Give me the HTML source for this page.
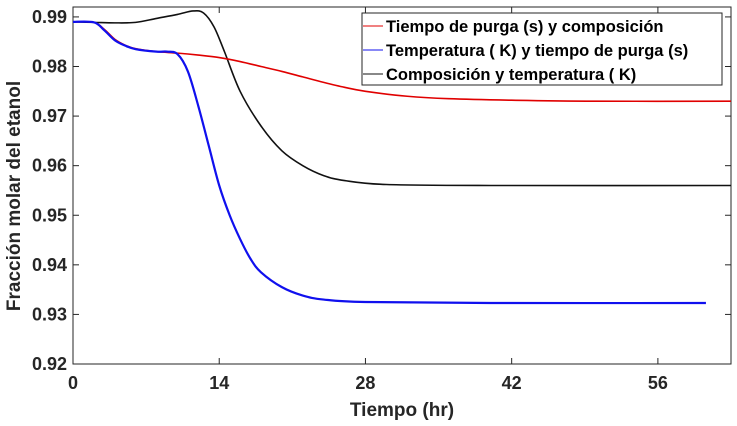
<!DOCTYPE html>
<html><head><meta charset="utf-8">
<style>
body{margin:0;background:#fff;}
svg{display:block;font-family:"Liberation Sans",Arial,sans-serif;}
</style></head>
<body>
<svg id="chart" width="737" height="426"></svg>
<script>
const xTicks=[0,14,28,42,56];
const yTicks=[0.92,0.93,0.94,0.95,0.96,0.97,0.98,0.99];
const yTickLabels=["0.92","0.93","0.94","0.95","0.96","0.97","0.98","0.99"];
const redX=[0,2,3,4,5,6,8,10,12,14,16,18,20,22,24,26,28,32,36,42,50,63];
const redY=[0.989,0.9889,0.9875,0.9855,0.9843,0.9836,0.9830,0.9827,0.9823,0.9818,0.9810,0.9800,0.9790,0.9779,0.9768,0.9758,0.9750,0.9740,0.9735,0.9732,0.9730,0.9730];
const blueX=[0,2,3,4,5,6,8,9,10,11,12,13,14,15,16,17,18,20,22,24,28,40,60.6];
const blueY=[0.989,0.9889,0.9873,0.9853,0.9842,0.9835,0.9830,0.9830,0.9825,0.9790,0.9720,0.9640,0.9560,0.9500,0.9452,0.9412,0.9385,0.9355,0.9338,0.9330,0.9325,0.9323,0.9323];
const blackX=[0,2,4,6,8,10,11.5,12.5,13.5,14.5,16,18,20,22,24,26,30,40,63];
const blackY=[0.989,0.9889,0.9888,0.9889,0.9897,0.9905,0.9912,0.9908,0.9880,0.9830,0.9750,0.9680,0.9630,0.9600,0.9580,0.9570,0.9562,0.9560,0.9560];
const legendLabels=["Tiempo de purga (s) y composición","Temperatura ( K) y tiempo de purga (s)","Composición y temperatura ( K)"];

const L=73,R=731,T=7,B=364,xMin=0,xMax=63,yMin=0.92,yMax=0.992;
const sx=v=>L+(v-xMin)/(xMax-xMin)*(R-L);
const sy=v=>B-(v-yMin)/(yMax-yMin)*(B-T);
const NS="http://www.w3.org/2000/svg";
const svg=document.getElementById('chart');
function mk(tag,attrs,parent){const e=document.createElementNS(NS,tag);for(const k in attrs)e.setAttribute(k,attrs[k]);(parent||svg).appendChild(e);return e;}

const frame=mk('rect',{x:L,y:T,width:R-L,height:B-T,fill:'#fff',stroke:'#262626','stroke-width':1});



xTicks.forEach(v=>{
  mk('line',{x1:sx(v),x2:sx(v),y1:B,y2:B-6,stroke:'#262626'});
  mk('line',{x1:sx(v),x2:sx(v),y1:T,y2:T+6,stroke:'#262626'});
  const t=mk('text',{x:sx(v),y:B+25,'text-anchor':'middle','font-size':18,'font-weight':'bold',fill:'#262626'});
  t.textContent=v;
  
  
});
yTicks.forEach((v,i)=>{
  mk('line',{x1:L,x2:L+6,y1:sy(v),y2:sy(v),stroke:'#262626'});
  mk('line',{x1:R,x2:R-6,y1:sy(v),y2:sy(v),stroke:'#262626'});
  const t=mk('text',{x:L-6,y:sy(v)+6,'text-anchor':'end','font-size':18,'font-weight':'bold',fill:'#262626'});
  t.textContent=yTickLabels[i];
  
  
});

function series(xs,ys,color,w,name){
  const pts=xs.map((x,i)=>[sx(x),sy(ys[i])]);
  let d='M'+pts[0][0]+','+pts[0][1];
  for(let i=0;i<pts.length-1;i++){
    const p0=pts[Math.max(0,i-1)],p1=pts[i],p2=pts[i+1],p3=pts[Math.min(pts.length-1,i+2)];
    const c1=[p1[0]+(p2[0]-p0[0])/6,p1[1]+(p2[1]-p0[1])/6];
    const c2=[p2[0]-(p3[0]-p1[0])/6,p2[1]-(p3[1]-p1[1])/6];
    d+=' C'+c1+' '+c2+' '+p2;
  }
  const p=mk('path',{d:d,fill:'none',stroke:color,'stroke-width':w});
  
  
}
series(blackX,blackY,'#111',1.6,'series-composicion-temperatura');
series(redX,redY,'#e00000',1.6,'series-tiempo-composicion');
series(blueX,blueY,'#1010ee',2.2,'series-temperatura-tiempo');

const lg=mk('g',{});


mk('rect',{x:362,y:13,width:360,height:72,fill:'#fff',stroke:'#262626','stroke-width':1},lg);
const cols=['#e00000','#1010ee','#111'];
legendLabels.forEach((s,i)=>{
  const y=26+i*24;
  mk('line',{x1:363,x2:383,y1:y,y2:y,stroke:cols[i],'stroke-width':1},lg);
  const t=mk('text',{x:386,y:y+6,'font-size':16.5,'font-weight':'bold',fill:'#000'},lg);
  t.textContent=s;
  
  
});

const xt=mk('text',{x:(L+R)/2,y:416,'text-anchor':'middle','font-size':19,'font-weight':'bold',fill:'#262626'});
xt.textContent='Tiempo (hr)';


const yt=mk('text',{x:0,y:0,'text-anchor':'middle','font-size':19,'font-weight':'bold',fill:'#262626',transform:'translate(20,196) rotate(-90)'});
yt.textContent='Fracción molar del etanol';


</script>
</body></html>
